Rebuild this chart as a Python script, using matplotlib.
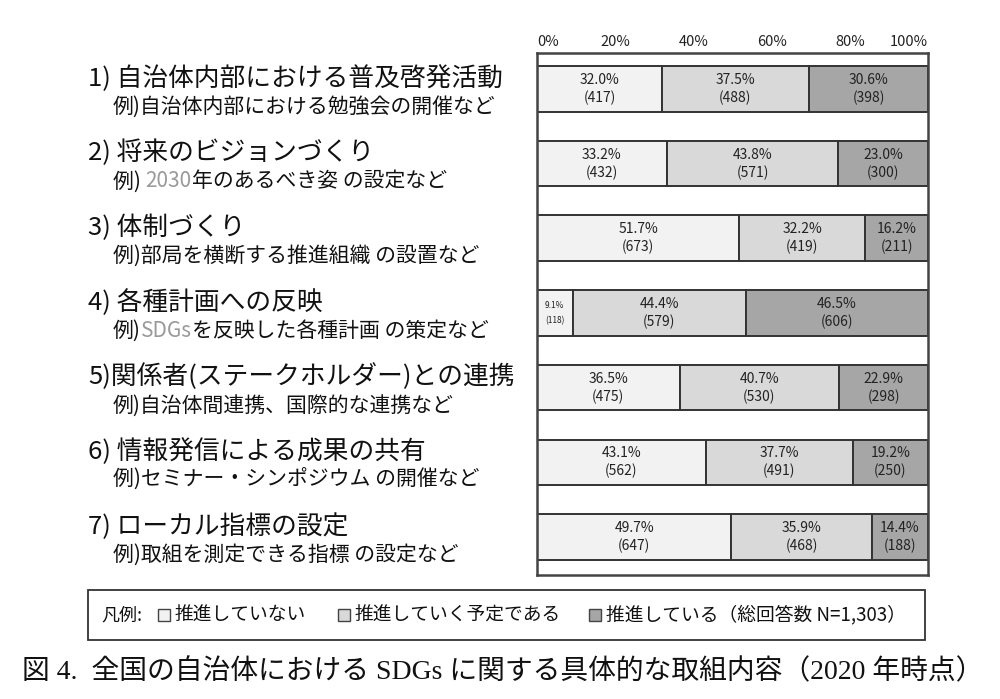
import re
import matplotlib
matplotlib.use("Agg")
import matplotlib.pyplot as plt
from matplotlib.patches import Rectangle
from matplotlib.transforms import blended_transform_factory

JP = ['Noto Sans CJK JP', 'DejaVu Sans']
plt.rcParams['font.family'] = JP

main_labels = [
    "1) 自治体内部における普及啓発活動",
    "2) 将来のビジョンづくり",
    "3) 体制づくり",
    "4) 各種計画への反映",
    "5)関係者(ステークホルダー)との連携",
    "6) 情報発信による成果の共有",
    "7) ローカル指標の設定",
]
sub_labels = [
    "例)自治体内部における勉強会の開催など",
    "例) 2030年のあるべき姿 の設定など",
    "例)部局を横断する推進組織 の設置など",
    "例)SDGsを反映した各種計画 の策定など",
    "例)自治体間連携、国際的な連携など",
    "例)セミナー・シンポジウム の開催など",
    "例)取組を測定できる指標 の設定など",
]
highlight_terms = ["2030", "SDGs"]

pct_not = [32.0, 33.2, 51.7, 9.1, 36.5, 43.1, 49.7]
pct_plan = [37.5, 43.8, 32.2, 44.4, 40.7, 37.7, 35.9]
pct_doing = [30.6, 23.0, 16.2, 46.5, 22.9, 19.2, 14.4]
n_not = [417, 432, 673, 118, 475, 562, 647]
n_plan = [488, 571, 419, 579, 530, 491, 468]
n_doing = [398, 300, 211, 606, 298, 250, 188]

x_ticks = [0, 20, 40, 60, 80, 100]
x_tick_labels = ["0%", "20%", "40%", "60%", "80%", "100%"]

legend_prefix = "凡例:"
legend_names = ["推進していない", "推進していく予定である", "推進している（総回答数 N=1,303）"]
caption = "図 4.  全国の自治体における SDGs に関する具体的な取組内容（2020 年時点）"

colors = ["#f2f2f2", "#d9d9d9", "#a6a6a6"]
edge = "#333333"

fig = plt.figure(figsize=(10, 6.99), dpi=100)
ax = fig.add_axes([0.537, 0.1774, 0.391, 0.7468])

ypos = list(range(len(main_labels)))
bar_h = 0.608
series = [(pct_not, n_not), (pct_plan, n_plan), (pct_doing, n_doing)]
lefts = [0.0] * len(ypos)
for (pcts, ns), col in zip(series, colors):
    ax.barh(ypos, pcts, left=lefts, height=bar_h, color=col,
            edgecolor=edge, linewidth=1.4, zorder=2)
    for i, (p, n) in enumerate(zip(pcts, ns)):
        cx = lefts[i] + p / 2
        fs = 6 if p < 12 else 10
        dy = 0.10 if p < 12 else 0.12
        ax.text(cx, ypos[i] - dy, f"{p:.1f}%", ha="center", va="center",
                fontsize=fs, color="#222222", zorder=3)
        ax.text(cx, ypos[i] + dy, f"({n})", ha="center", va="center",
                fontsize=fs, color="#222222", zorder=3)
    lefts = [l + p for l, p in zip(lefts, pcts)]

ax.set_xlim(0, 100)
ax.set_ylim(6.51, -0.48)
ax.set_yticks([])
ax.xaxis.tick_top()
ax.set_xticks(x_ticks)
ax.set_xticklabels(x_tick_labels, fontsize=10.5)
ax.tick_params(axis="x", length=0, pad=3, colors="#222222")
tl = ax.get_xticklabels()
tl[0].set_ha("left")
tl[-1].set_ha("right")
for s in ax.spines.values():
    s.set_color("#444444")
    s.set_linewidth(1.8)

# left labels
trans = blended_transform_factory(fig.transFigure, ax.transData)
pattern = "(" + "|".join(map(re.escape, highlight_terms)) + ")"
for i, (m, s) in enumerate(zip(main_labels, sub_labels)):
    ax.text(0.088, ypos[i] - 0.14, m, transform=trans, ha="left", va="center",
            fontsize=18.5, color="#111111")
    parts = [p for p in re.split(pattern, s) if p]
    prev = None
    for p in parts:
        c = "#9a9a9a" if p in highlight_terms else "#111111"
        if prev is None:
            prev = ax.text(0.113, ypos[i] + 0.24, p, transform=trans, ha="left",
                           va="center", fontsize=15, color=c)
        else:
            prev = ax.annotate(p, xy=(1, 0), xycoords=prev, ha="left",
                               va="bottom", fontsize=15, color=c)

# legend box
fig.add_artist(Rectangle((0.088, (699 - 640) / 699), 0.837, 50 / 699,
                         transform=fig.transFigure, facecolor="white",
                         edgecolor="#333333", linewidth=1.3))
ly = (699 - 615) / 699
fig.text(0.101, ly, legend_prefix, ha="left", va="center", fontsize=13, color="#111111")
sq_x = [0.158, 0.338, 0.589]
for x, c, name in zip(sq_x, colors, legend_names):
    fig.add_artist(Rectangle((x, ly - 6 / 699), 0.012, 12 / 699,
                             transform=fig.transFigure, facecolor=c,
                             edgecolor="#444444", linewidth=1.0))
    fig.text(x + 0.017, ly, name, ha="left", va="center", fontsize=13.5, color="#111111")

fig.text(0.503, (699 - 672) / 699, caption, ha="center", va="center", fontsize=20,
         family=["Liberation Serif", "Noto Sans CJK JP"], color="#111111")

fig.savefig("out.png", dpi=100, facecolor="white")
